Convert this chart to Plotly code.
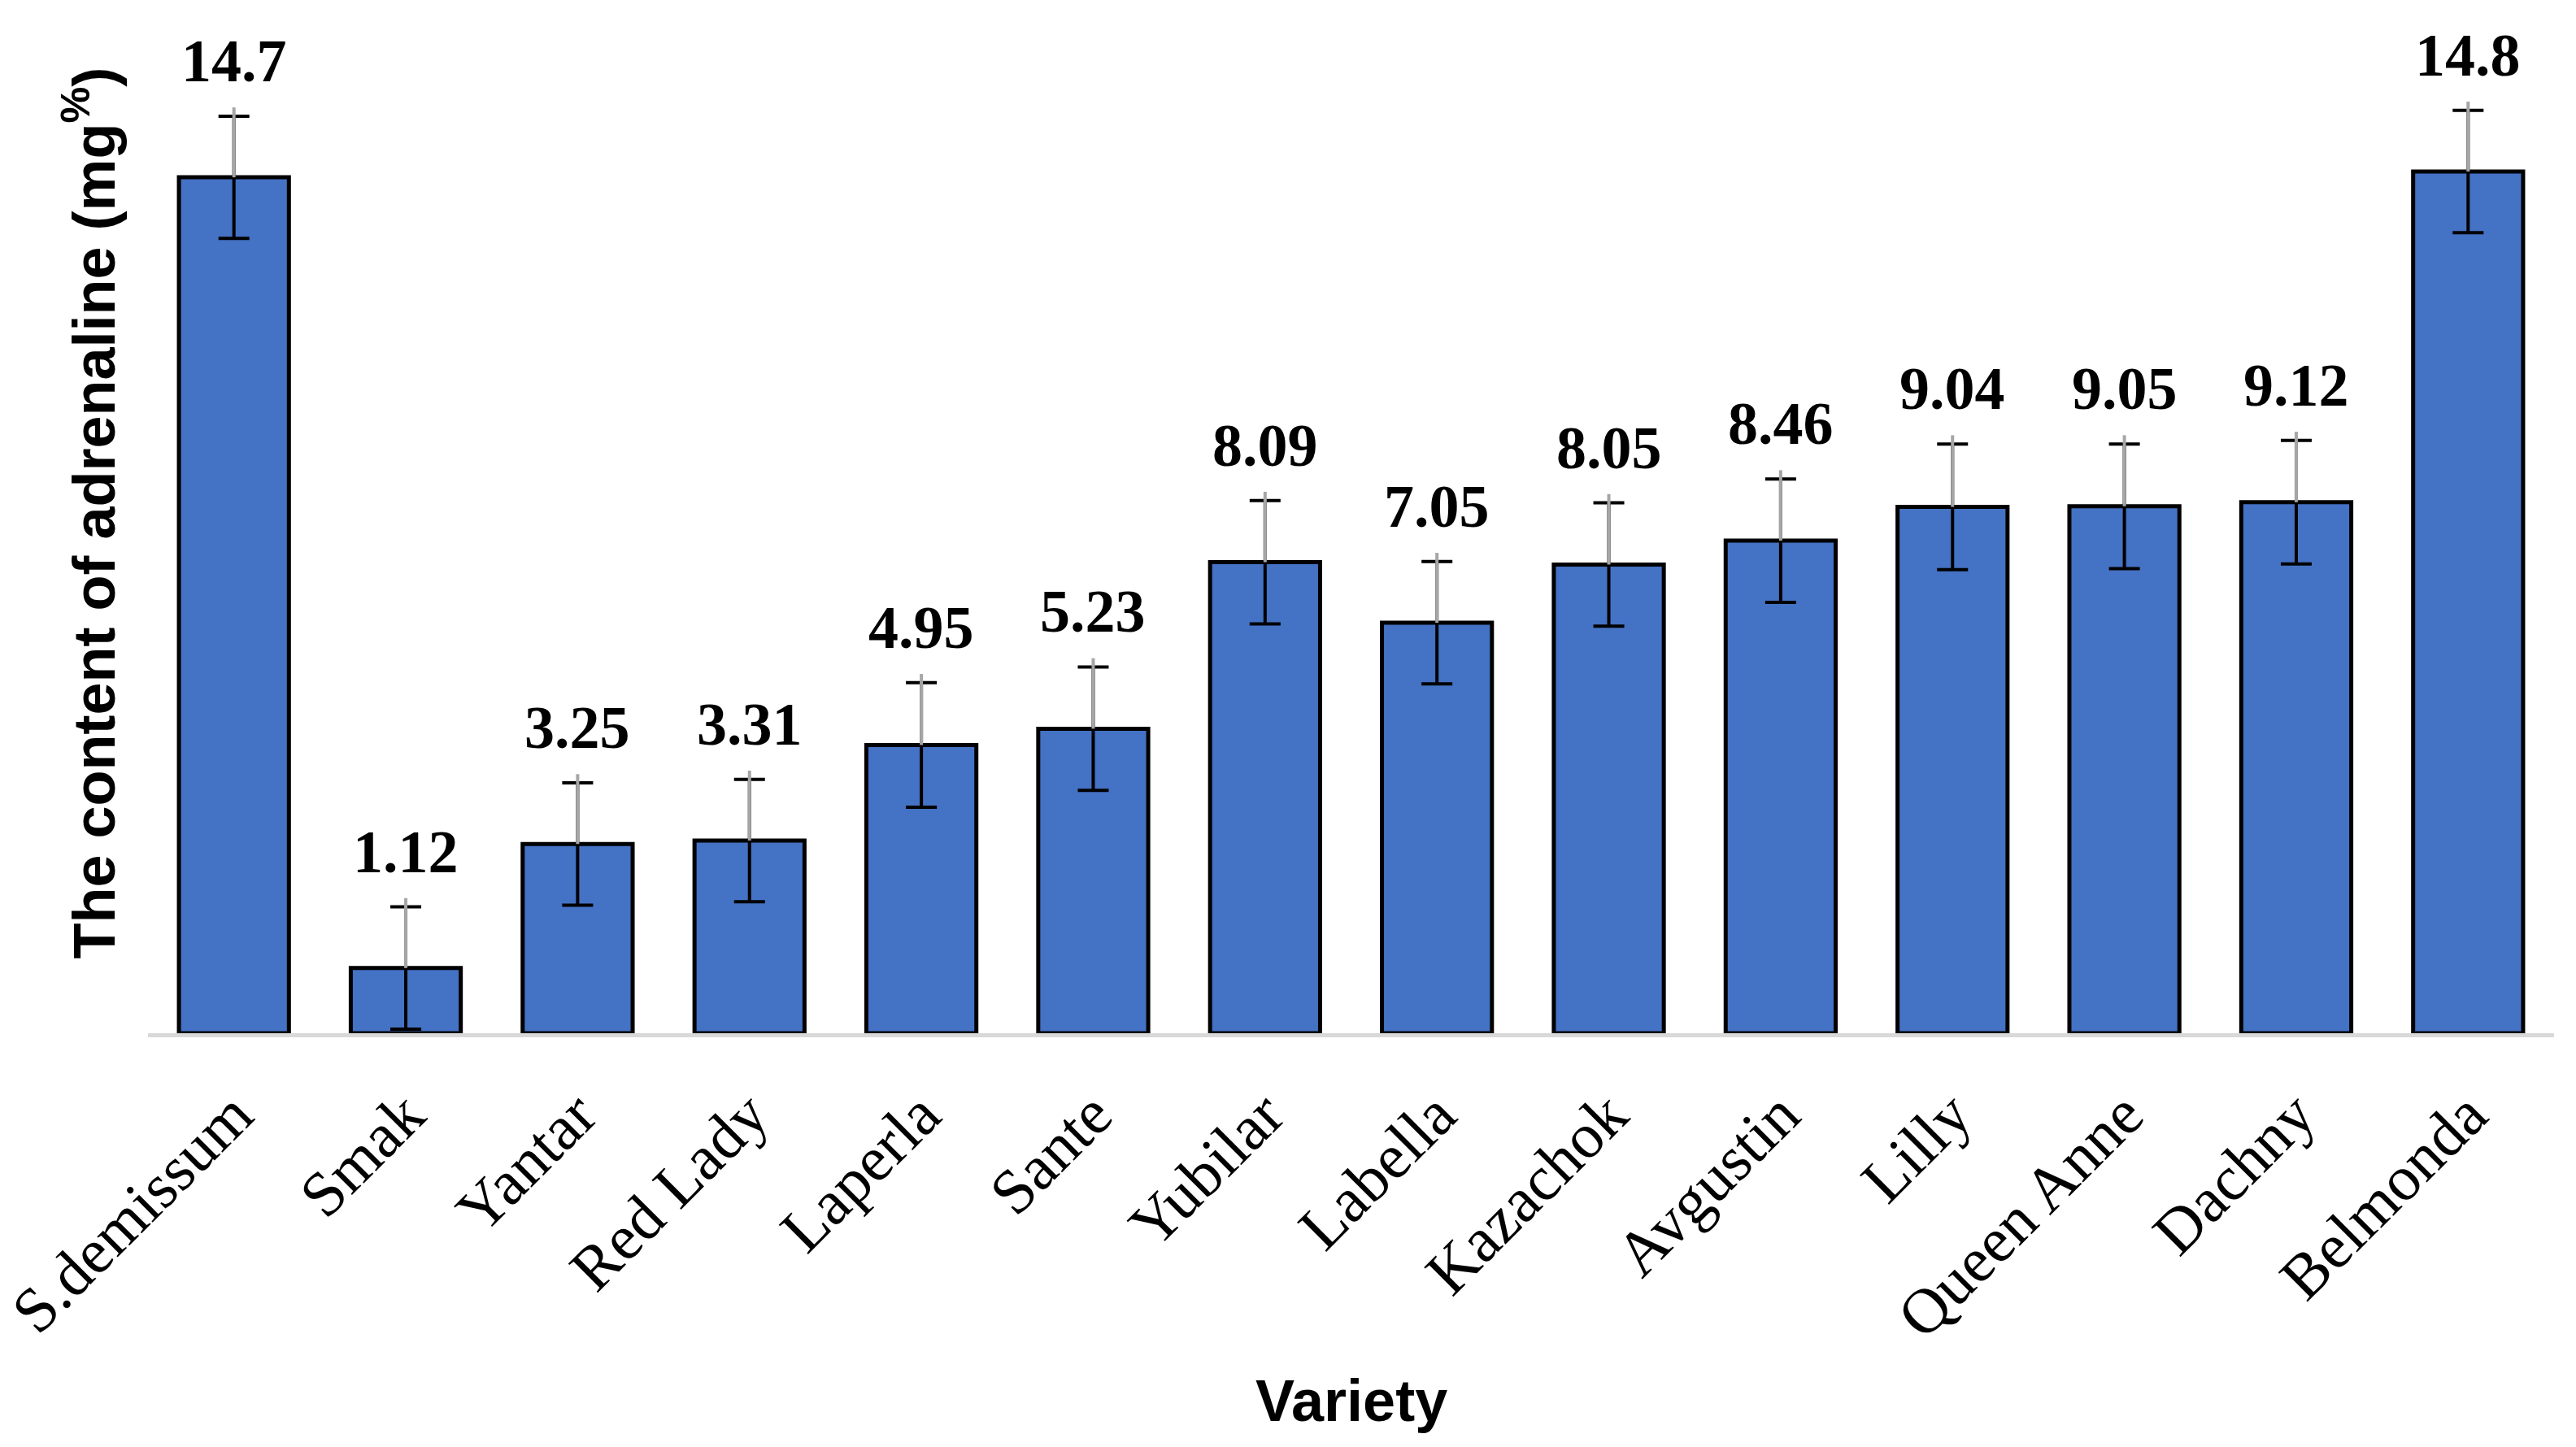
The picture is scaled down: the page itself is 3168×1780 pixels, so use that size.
import plotly.graph_objects as go

varieties = ["S.demissum", "Smak", "Yantar", "Red Lady", "Laperla", "Sante", "Yubilar",
             "Labella", "Kazachok", "Avgustin", "Lilly", "Queen Anne", "Dachny", "Belmonda"]
adrenaline = [14.7, 1.12, 3.25, 3.31, 4.95, 5.23, 8.09, 7.05, 8.05, 8.46, 9.04, 9.05, 9.12, 14.8]
errors = [1.05, 1.05, 1.05, 1.05, 1.07, 1.06, 1.06, 1.05, 1.06, 1.06, 1.08, 1.07, 1.06, 1.05]
value_labels = ["14.7", "1.12", "3.25", "3.31", "4.95", "5.23", "8.09", "7.05", "8.05", "8.46",
                "9.04", "9.05", "9.12", "14.8"]

W, H = 3160, 1772
ML, MR, MT, MB = 174, 27, 117, 509
YMAX = 16

fig = go.Figure()

fig.add_trace(go.Bar(
    x=varieties, y=adrenaline,
    marker=dict(color="#4472C4", line=dict(color="black", width=5)),
    error_y=dict(type="data", array=errors, visible=True, color="black",
                 thickness=4, width=19),
    hoverinfo="x+y",
    showlegend=False,
))

# leader lines from bar tops up to the labels
lx, ly = [], []
for c, v, e in zip(varieties, adrenaline, errors):
    lx += [c, c, None]
    ly += [v, v + e + 0.15, None]
fig.add_trace(go.Scatter(x=lx, y=ly, mode="lines",
                         line=dict(color="#A6A6A6", width=4),
                         hoverinfo="skip", showlegend=False))

annotations = []
for c, v, e, t in zip(varieties, adrenaline, errors, value_labels):
    annotations.append(dict(
        x=c, y=v + e, xref="x", yref="y", text="<b>" + t + "</b>", showarrow=False,
        yanchor="bottom", xanchor="center", yshift=25,
        font=dict(family="Liberation Serif, Times New Roman, serif", size=74, color="black"),
    ))

# axis titles
annotations.append(dict(
    xref="paper", yref="paper", x=0, y=0.558, xshift=-72,
    text="<b>The content of adrenaline (mg<sup>%</sup>)</b>", textangle=-90,
    showarrow=False, xanchor="center", yanchor="middle",
    font=dict(family="Liberation Sans, Arial, sans-serif", size=72, color="black"),
))
annotations.append(dict(
    xref="paper", yref="paper", x=0.5, y=0, yshift=-452,
    text="<b>Variety</b>", showarrow=False, xanchor="center", yanchor="middle",
    font=dict(family="Liberation Sans, Arial, sans-serif", size=72, color="black"),
))

fig.update_layout(
    width=W, height=H,
    margin=dict(l=ML, r=MR, t=MT, b=MB, pad=0, autoexpand=False),
    paper_bgcolor="white", plot_bgcolor="white",
    bargap=0.36,
    annotations=annotations,
    xaxis=dict(
        showline=True, linecolor="#D9D9D9", linewidth=5, automargin=False,
        ticks="", tickangle=-45, showgrid=False, zeroline=False,
        tickfont=dict(family="Liberation Serif, Times New Roman, serif", size=78, color="black"),
        ticklabelstandoff=18,
    ),
    yaxis=dict(range=[0, YMAX], visible=False, showgrid=False, zeroline=False, automargin=False),
)

fig.write_html("out.html")
